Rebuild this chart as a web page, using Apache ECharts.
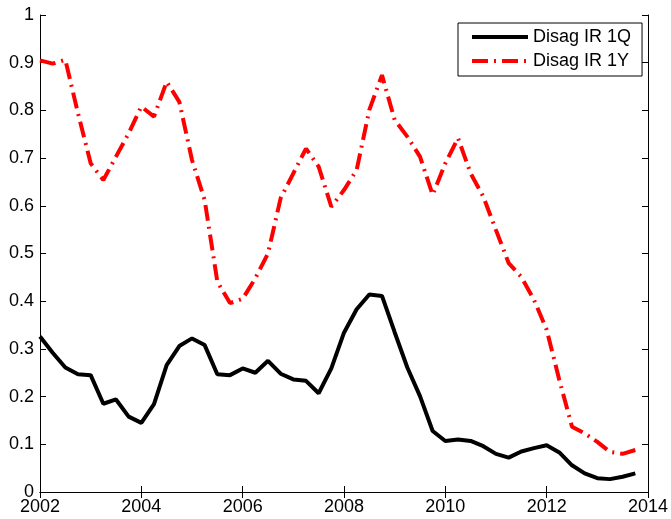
<!DOCTYPE html>
<html><head><meta charset="utf-8">
<script src="https://cdn.jsdelivr.net/npm/echarts@6/dist/echarts.min.js"></script>
<style>html,body{margin:0;padding:0;background:#fff}#c{width:671px;height:519px}</style>
</head><body><div id="c"></div>
<script>
const dates = [2002,2002.25,2002.5,2002.75,2003,2003.25,2003.5,2003.75,2004,2004.25,2004.5,2004.75,
2005,2005.25,2005.5,2005.75,2006,2006.25,2006.5,2006.75,2007,2007.25,2007.5,2007.75,
2008,2008.25,2008.5,2008.75,2009,2009.25,2009.5,2009.75,2010,2010.25,2010.5,2010.75,
2011,2011.25,2011.5,2011.75,2012,2012.25,2012.5,2012.75,2013,2013.25,2013.5,2013.75];
const ir1q = [0.326,0.292,0.261,0.247,0.245,0.185,0.194,0.158,0.145,0.184,0.266,0.306,
0.322,0.308,0.247,0.245,0.259,0.250,0.275,0.248,0.236,0.233,0.207,0.259,
0.334,0.383,0.414,0.411,0.335,0.261,0.201,0.128,0.107,0.110,0.107,0.096,
0.080,0.072,0.085,0.092,0.098,0.083,0.056,0.039,0.029,0.027,0.032,0.039];
const ir1y = [0.905,0.898,0.906,0.794,0.689,0.654,0.703,0.752,0.808,0.787,0.860,0.818,
0.696,0.612,0.441,0.396,0.405,0.448,0.500,0.616,0.668,0.720,0.682,0.598,
0.633,0.675,0.801,0.874,0.780,0.745,0.703,0.623,0.689,0.742,0.668,0.619,
0.549,0.480,0.451,0.403,0.340,0.235,0.137,0.123,0.105,0.084,0.080,0.088];
const seriesNames = ['Disag IR 1Q','Disag IR 1Y'];
const xTicks = {min:2002,max:2014,interval:2};
const yTicks = {min:0,max:1,interval:0.1};

const font = 'Liberation Sans';
const chart = echarts.init(document.getElementById('c'));
const mk = (xs, ys) => xs.map((x,i)=>[x, ys[i]]);
const axCommon = {
  axisLine:{show:true,lineStyle:{color:'#000',width:1}},
  axisTick:{show:true,inside:true,length:6,lineStyle:{color:'#000',width:1}},
  splitLine:{show:false}
};
chart.setOption({
  animation:false,
  backgroundColor:'#fff',
  textStyle:{fontFamily:font},
  grid:{left:40,right:23,top:15,bottom:27,containLabel:false},
  xAxis:[
    Object.assign({type:'value',position:'bottom',min:xTicks.min,max:xTicks.max,interval:xTicks.interval,
      axisLabel:{color:'#000',fontSize:18,fontFamily:font,margin:6,formatter:v=>String(v)}},axCommon),
    Object.assign({type:'value',position:'top',min:xTicks.min,max:xTicks.max,interval:xTicks.interval,
      axisLabel:{show:false}},axCommon)
  ],
  yAxis:[
    Object.assign({type:'value',position:'left',min:yTicks.min,max:yTicks.max,interval:yTicks.interval,
      axisLabel:{color:'#000',fontSize:18,fontFamily:font,margin:6}},axCommon),
    Object.assign({type:'value',position:'right',min:yTicks.min,max:yTicks.max,interval:yTicks.interval,
      axisLabel:{show:false}},axCommon)
  ],
  legend:{
    show:true, orient:'vertical', left:458, top:23,
    backgroundColor:'#fff', borderColor:'#000', borderWidth:1,
    padding:[5,11,6,12], itemGap:6, itemWidth:56, itemHeight:14,
    itemStyle:{opacity:0},
    lineStyle:{width:4},
    textStyle:{color:'#000',fontSize:18,fontFamily:font},
    data:seriesNames
  },
  series:[
    {name:seriesNames[0],type:'line',data:mk(dates,ir1q),showSymbol:false,symbol:'none',
      lineStyle:{color:'#000',width:4},itemStyle:{color:'#000'}},
    {name:seriesNames[1],type:'line',data:mk(dates,ir1y),showSymbol:false,symbol:'none',
      lineStyle:{color:'#ff0000',width:4,type:[16,6,2,6]},itemStyle:{color:'#ff0000'}}
  ]
});
</script></body></html>
